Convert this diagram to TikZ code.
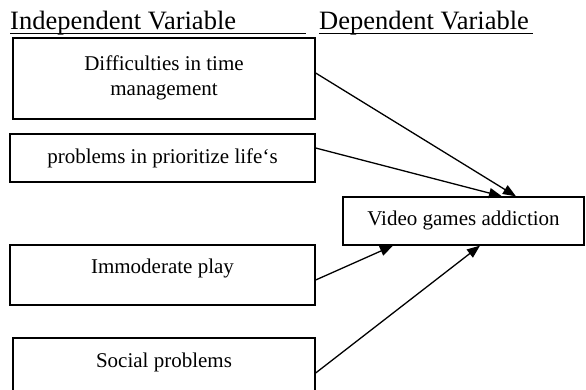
\documentclass[tikz,border=0pt]{standalone}
\usepackage{fontspec}
\setmainfont{Liberation Serif}
\usetikzlibrary{arrows.meta}
\begin{document}
\begin{tikzpicture}[x=1pt,y=-1pt,
  box/.style={draw, line width=1.3pt, rectangle, inner sep=0pt},
  txt/.style={font=\fontsize{21}{25}\selectfont, inner sep=0pt, align=center},
  head/.style={font=\fontsize{26.5}{30}\selectfont, inner sep=0pt, anchor=base west},
  uline/.style={line width=1.3pt},
  conn/.style={line width=1.3pt, -{Triangle[length=13pt,width=10pt]}}]
\clip (0,0) rectangle (586,390);
\fill[white] (0,0) rectangle (586,390);
% headers
\node[head] (h1) at (10,29.5) {Independent Variable};
\node[head] (h2) at (319,29.5) {Dependent Variable};
\coordinate (u1a) at (10,33.5);
\coordinate (u1b) at (306,33.5);
\coordinate (u2a) at (319,33.5);
\coordinate (u2b) at (533,33.5);
\draw[uline] (u1a) -- (u1b);
\draw[uline] (u2a) -- (u2b);
% boxes
\node[box, minimum width=302pt, minimum height=81pt] (b1) at (164,78.5) {};
\node[box, minimum width=305pt, minimum height=48pt] (b2) at (162.5,158) {};
\node[box, minimum width=305pt, minimum height=60pt] (b3) at (162.5,275) {};
\node[box, minimum width=302pt, minimum height=62pt] (b4) at (164,369) {};
\node[box, minimum width=241pt, minimum height=48pt] (v) at (463.5,221) {};
% texts
\node[txt] (t1) at (164,77.5) {Difficulties in time\\management};
\node[txt] (t2) at (162.5,158) {problems in prioritize life`s};
\node[txt] (t3) at (162.5,268) {Immoderate play};
\node[txt] (t4) at (164,362) {Social problems};
\node[txt] (tv) at (463.5,220) {Video games addiction};
% connectors
\draw[conn] ([yshift=5.5pt]b1.east) -- ([xshift=52.5pt]v.north);
\draw[conn] ([yshift=10pt]b2.east) -- ([xshift=38.5pt]v.north);
\draw[conn] ([yshift=-5pt]b3.east) -- ([xshift=-70.5pt]v.south);
\draw[conn] ([yshift=-4pt]b4.east) -- ([xshift=16.5pt]v.south);
\end{tikzpicture}
\end{document}
